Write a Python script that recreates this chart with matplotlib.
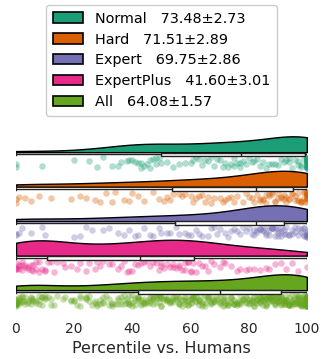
import matplotlib
matplotlib.use('Agg')
import matplotlib.pyplot as plt
import numpy as np
from matplotlib.patches import Patch

groups = ['Normal', 'Hard', 'Expert', 'ExpertPlus', 'All']
legend_labels = ['Normal   73.48±2.73', 'Hard   71.51±2.89', 'Expert   69.75±2.86',
                 'ExpertPlus   41.60±3.01', 'All   64.08±1.57']
colors = ['#1b9e77', '#d95f02', '#7570b3', '#e7298a', '#66a61e']

# percentile values
normal = [0, 0, 9, 20, 25, 28, 30, 33, 35, 36, 38, 39, 40, 41, 42, 43, 43, 44, 45, 46,
          46, 47, 48, 48, 49,
          50, 52, 54, 56, 58, 60, 61, 62, 63, 64, 65, 66, 67, 68, 69, 70, 71, 72, 73, 74,
          75, 75, 76, 77, 77,
          78, 79, 80, 81, 82, 83, 84, 85, 86, 87, 88, 89, 90, 91, 92, 93, 94, 94, 95, 96,
          97, 97, 98, 98, 99,
          100, 100, 100, 100, 100, 100, 100, 100, 100, 100, 100, 100, 100, 100, 100, 100,
          100, 100, 100, 100, 100, 100, 100, 100, 100]
hard = [0, 0, 1, 3, 5, 8, 12, 19, 22, 24, 27, 29, 31, 33, 34, 37, 39, 40, 42, 44, 47, 49,
        51, 52, 53,
        54, 56, 57, 58, 60, 61, 62, 63, 64, 65, 66, 67, 68, 70, 71, 72, 73, 74, 75, 76, 78,
        79, 80, 81, 82,
        83, 84, 84, 85, 85, 86, 86, 87, 87, 88, 88, 89, 89, 90, 90, 91, 91, 92, 92, 93, 93,
        94, 94, 95, 95,
        96, 96, 97, 97, 97, 98, 98, 98, 99, 99, 99, 99,
        100, 100, 100, 100, 100, 100, 100, 100, 100, 100, 100, 100, 100]
expert = [0, 0, 1, 2, 5, 9, 10, 20, 22, 24, 26, 30, 32, 35, 37, 39, 41, 42, 44, 46, 47, 49,
          50, 52, 53,
          55, 56, 58, 59, 60, 62, 63, 64, 66, 67, 68, 69, 70, 72, 73, 74, 75, 76, 77, 78, 79,
          80, 81, 82, 82,
          83, 83, 84, 84, 85, 85, 85, 86, 86, 87, 87, 87, 88, 88, 88, 89, 89, 89, 90, 90, 90,
          91, 91, 91, 92,
          92, 93, 93, 94, 94, 95, 95, 96, 96, 97, 97, 98, 98, 99, 99, 99, 99,
          100, 100, 100, 100, 100, 100, 100, 100]
expert_plus = [0, 0, 0, 0, 1, 1, 1, 2, 2, 2, 3, 3, 4, 4, 5, 5, 6, 6, 7, 7, 8, 8, 9, 10, 10,
               11, 12, 13, 14, 16, 17, 19, 21, 22, 24, 25, 27, 28, 29, 30, 32, 33, 35, 36,
               37, 38, 39, 40, 41, 42,
               43, 44, 45, 46, 47, 48, 49, 50, 50, 51, 52, 53, 54, 54, 55, 56, 56, 57, 58,
               58, 59, 59, 60, 60, 61,
               62, 63, 64, 65, 66, 67, 68, 70, 71, 72, 74, 76, 77, 79, 80, 82, 84, 86, 87,
               89, 91, 93, 95, 97, 100]
all_levels = normal + hard + expert + expert_plus

series = [normal, hard, expert, expert_plus, all_levels]

fig = plt.figure(figsize=(3.23, 3.59), dpi=100)
ax = fig.add_axes([0.0495, 0.139, 0.9005, 0.490])

rng = np.random.default_rng(7)
grid = np.linspace(0, 100, 400)
for i, (vals, c) in enumerate(zip(series, colors)):
    v = np.asarray(vals, float)
    bw = v.std(ddof=1) * len(v) ** -0.2
    d = np.exp(-0.5 * ((grid[:, None] - v[None, :]) / bw) ** 2).sum(1)
    d = d / d.max() * 0.46
    ax.fill_between(grid, i, i - d, facecolor=c, edgecolor='black', lw=1, zorder=2)

    ax.boxplot([v], positions=[i + 0.065], widths=0.11, orientation='horizontal',
               patch_artist=True, showfliers=False, manage_ticks=False,
               boxprops=dict(facecolor='white', edgecolor='#222222', lw=1),
               medianprops=dict(color='#222222', lw=1),
               whiskerprops=dict(color='#222222', lw=1),
               capprops=dict(color='#222222', lw=1), zorder=3)

    y = i + 0.31 + rng.uniform(-0.16, 0.16, len(v))
    ax.scatter(v, y, s=22, color=c, alpha=0.35, lw=0, zorder=1)

ax.set_xlim(0, 100)
ax.set_ylim(4.55, -0.55)
for s in ax.spines.values():
    s.set_visible(False)
ax.set_yticks([])
ax.set_xticks([0, 20, 40, 60, 80, 100])
ax.tick_params(axis='x', length=0, pad=9, labelsize=10, labelcolor='#262626')
ax.set_xlabel('Percentile vs. Humans', fontsize=11.5, color='#262626', labelpad=4)

handles = [Patch(facecolor=c, edgecolor='black', lw=1.2) for c in colors]
fig.legend(handles, legend_labels, loc='upper center', bbox_to_anchor=(0.5, 1.006),
           fontsize=10.4, handlelength=2.1, handleheight=0.7, labelspacing=0.48,
           handletextpad=0.8, edgecolor='#cccccc', framealpha=1, borderpad=0.45)

fig.savefig('out.png', dpi=100)
